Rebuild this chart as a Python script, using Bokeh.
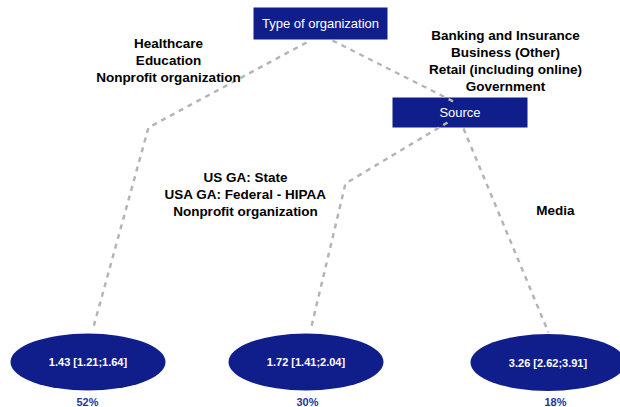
from bokeh.plotting import figure
from bokeh.models import Range1d
from bokeh.core.properties import value
from bokeh.embed import file_html
from bokeh.resources import INLINE

# ---------------- data ----------------
root_label = "Type of organization"
split_label = "Source"
root_left_groups = ["Healthcare", "Education", "Nonprofit organization"]
root_right_groups = ["Banking and Insurance", "Business (Other)",
                     "Retail (including online)", "Government"]
source_left_groups = ["US GA: State", "USA GA: Federal - HIPAA", "Nonprofit organization"]
source_right_groups = ["Media"]
leaf_estimate = [1.43, 1.72, 3.26]
leaf_lower = [1.21, 1.41, 2.62]
leaf_upper = [1.64, 2.04, 3.91]
leaf_share = [52, 30, 18]

# ---------------- layout (reference pixel space) ----------------
NAVY = "#0f1e8a"
PCT = "#26359c"
GREY = "#b5b5b5"
FONT = "Liberation Sans"

boxes = dict(x=[320, 459.5], y=[23, 112], w=[134, 135], h=[32, 30],
             label=[root_label, split_label])
leaf_x = [87.5, 305.5, 547.5]
leaf_y = [361.5, 361.5, 362]
pct_x = [87, 307, 555]
pct_y = [401, 401, 401]

edges_x = [[306, 148, 92], [332, 457], [447, 345, 310], [463, 548]]
edges_y = [[42, 127, 330], [40, 103], [122, 183, 330], [128, 332]]

group_anchor = [(168, 43), (505, 35), (245, 177), (555, 210)]
groups = [root_left_groups, root_right_groups, source_left_groups, source_right_groups]
LINE_STEP = 17

p = figure(width=620, height=407, x_range=Range1d(0, 620), y_range=Range1d(407, 0),
           output_backend="svg", toolbar_location=None, min_border=0,
           x_axis_location=None, y_axis_location=None)
p.grid.visible = False
p.outline_line_color = None
p.background_fill_color = "white"
p.border_fill_color = "white"

# boxes
p.rect(x=boxes["x"], y=boxes["y"], width=boxes["w"], height=boxes["h"],
       fill_color=NAVY, line_color=None)
p.text(x=boxes["x"], y=boxes["y"], text=boxes["label"], text_color="white",
       text_font=value(FONT), text_font_size="13px", text_align="center",
       text_baseline="middle")

# ellipses
p.ellipse(x=leaf_x, y=leaf_y, width=155, height=57, fill_color=NAVY, line_color=None)
leaf_text = [f"{e:.2f} [{l:.2f};{u:.2f}]" for e, l, u in zip(leaf_estimate, leaf_lower, leaf_upper)]
p.text(x=leaf_x, y=leaf_y, text=leaf_text, text_color="white", text_font=value(FONT),
       text_font_size="11px", text_font_style="bold", text_align="center",
       text_baseline="middle")
p.text(x=pct_x, y=pct_y, text=[f"{s}%" for s in leaf_share], text_color=PCT,
       text_font=value(FONT), text_font_size="11px", text_font_style="bold",
       text_align="center", text_baseline="middle")

# dashed edges
p.multi_line(xs=edges_x, ys=edges_y, line_color=GREY, line_width=2.5, line_dash="5 5")

# group labels
gx, gy, gt = [], [], []
for (ax, ay), lines in zip(group_anchor, groups):
    for i, t in enumerate(lines):
        gx.append(ax)
        gy.append(ay + i * LINE_STEP)
        gt.append(t)
p.text(x=gx, y=gy, text=gt, text_color="black", text_font=value(FONT),
       text_font_size="13.5px", text_font_style="bold", text_align="center",
       text_baseline="middle")

open("out.html", "w").write(file_html(p, INLINE))
